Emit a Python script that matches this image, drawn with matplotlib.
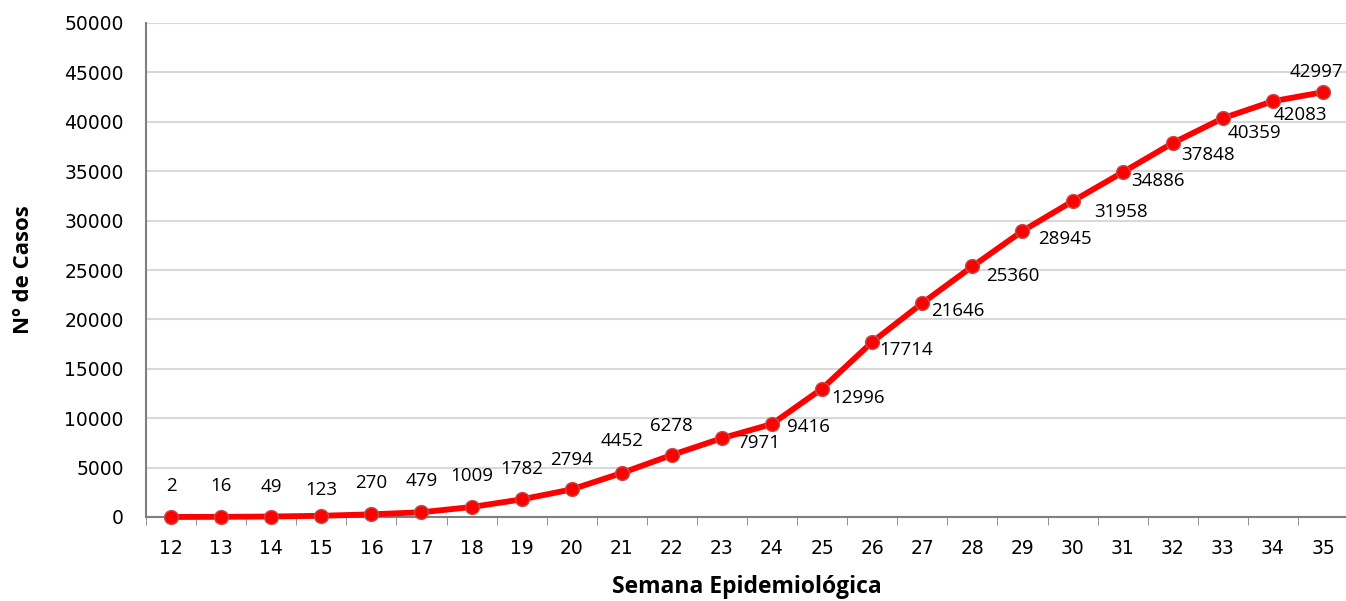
import matplotlib.pyplot as plt
import numpy as np

# semanas epidemiológicas e casos acumulados
semanas = list(range(12, 36))
casos = [2, 16, 49, 123, 270, 479, 1009, 1782, 2794, 4452, 6278, 7971,
         9416, 12996, 17714, 21646, 25360, 28945, 31958, 34886, 37848,
         40359, 42083, 42997]

# placement des étiquettes (pixels), repris de l'image
dec = [(0, 31), (0, 31), (0, 30), (0, 26), (0, 31), (0, 31), (0, 31), (0, 30),
       (0, 29), (0, 32), (0, 29), (15, -5), (15, -3), (9, -9), (7, -8), (9, -8),
       (14, -10), (16, -8), (22, -11), (9, -9), (8, -12), (5, -15), (1, -14),
       (-7, 20)]
align = ["center"] * 11 + ["left"] * 12 + ["center"]

fig = plt.figure(figsize=(13.46, 6.01), dpi=100)
ax = fig.add_axes([146 / 1346, 84 / 601, 1202 / 1346, 494 / 601])

x = np.arange(len(semanas))
ax.plot(x, casos, color="#ff0000", linewidth=4.2, marker="o", markersize=10,
        markerfacecolor="#ff0000", markeredgecolor="#c0504d", markeredgewidth=1.0,
        zorder=3, clip_on=False)

for xi, v, (dx, dy), ha in zip(x, casos, dec, align):
    ax.annotate(str(v), (xi, v), xytext=(dx, dy), textcoords="offset pixels",
                ha=ha, va="center", fontsize=13.5, family="Open Sans")

ax.set_xlim(-0.5, len(semanas) - 0.5)
ax.set_ylim(0, 50000)
ax.set_yticks(np.arange(0, 50001, 5000))
ax.set_xticks(x)
ax.set_xticklabels([str(s) for s in semanas], fontsize=13.5)
ax.set_xticks(np.arange(-0.5, len(semanas), 1), minor=True)
ax.tick_params(axis="x", which="major", length=0, pad=16)
ax.tick_params(axis="x", which="minor", length=6, color="#7f7f7f")
ax.tick_params(axis="y", length=0, labelsize=13.5, pad=16)

ax.grid(True, axis="y", color="#d9d9d9", linewidth=1.5)
ax.set_axisbelow(True)
for s in ["top", "right"]:
    ax.spines[s].set_visible(False)
ax.spines["left"].set_color("#7f7f7f")
ax.spines["bottom"].set_color("#7f7f7f")
ax.spines["left"].set_linewidth(1.5)
ax.spines["bottom"].set_linewidth(1.5)

ax.set_xlabel("Semana Epidemiológica", fontsize=16.5, fontweight="bold",
              family="Open Sans", labelpad=12)
ax.set_ylabel("Nº de Casos", fontsize=16, fontweight="bold",
              family="Open Sans", labelpad=22)

plt.savefig("out.png")
plt.close()
